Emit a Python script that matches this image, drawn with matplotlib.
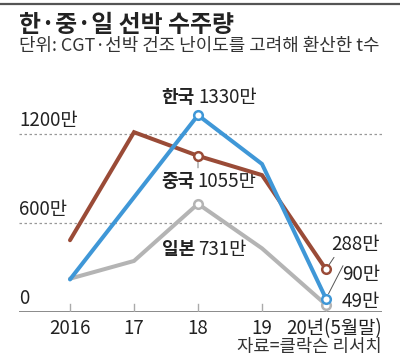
import matplotlib
matplotlib.use("Agg")
import matplotlib.pyplot as plt
from matplotlib import font_manager

# 한·중·일 선박 수주량 (만 CGT)
years = [2016, 2017, 2018, 2019, 2020]
xlabels = ["2016", "17", "18", "19", ""]
korea = [220, 775, 1330, 1000, 90]
china = [485, 1215, 1055, 925, 288]
japan = [225, 345, 731, 430, 49]
yticks = [0, 600, 1200]
ylabels = ["0", "600만", "1200만"]

BLUE = "#3f97d7"
BROWN = "#9a4b37"
GRAY = "#b4b4b4"
TXT = "#222222"

plt.rcParams["font.family"] = ["Noto Sans CJK KR", "DejaVu Sans"]
names = {f.name for f in font_manager.fontManager.ttflist}
NARROW = ["Liberation Sans Narrow", "Noto Sans CJK KR"] if "Liberation Sans Narrow" in names \
    else ["Noto Sans CJK KR"]

W, H = 400, 364
fig = plt.figure(figsize=(W / 100, H / 100), dpi=100)

def px(x, y):
    return x / W, 1 - y / H

def pt(v):
    return v * 0.72

# top rule
fig.add_artist(plt.Line2D([0, 1], [1 - 3.5 / H] * 2, color="#555555", lw=1.6))

fig.text(*px(19, 25), "한·중·일 선박 수주량", fontsize=17.2, fontweight="bold",
         color=TXT, va="center", ha="left")
fig.text(*px(19, 46), "단위: CGT·선박 건조 난이도를 고려해 환산한 t수", fontsize=12.9,
         color="#333333", va="center", ha="left", family=NARROW)
fig.text(*px(382, 347), "자료=클락슨 리서치", fontsize=12.8, color="#333333",
         va="center", ha="right", family=NARROW)

ax = fig.add_axes([19 / W, 1 - 312 / H, (382 - 19) / W, 222 / H])
ax.set_xlim(2016 - 51 / 64, 2020 + 56 / 64)
ax.set_ylim(0, 1500)
ax.axis("off")

NUM = dict(family=NARROW, fontsize=13.5, color=TXT)

# grid + y labels
for v, lab in zip(yticks, ylabels):
    if v > 0:
        ax.axhline(v, color="#999999", lw=0.9, ls=(0, (2, 2)), zorder=1)
    ax.annotate(lab, xy=(0, v), xycoords=("axes fraction", "data"),
                xytext=(0, pt(3)), textcoords="offset points",
                ha="left", va="bottom", **NUM)

# baseline + ticks
ax.axhline(0, color="#777777", lw=1.2, zorder=2)
for x, lab in zip(years, xlabels):
    ax.plot([x, x], [0, 8 / 222 * 1500], color="#aaaaaa", lw=1, zorder=2)
    if lab:
        ax.annotate(lab, xy=(x, 0), xytext=(0, -pt(17)), textcoords="offset points",
                    ha="center", va="center", **NUM)
ax.annotate("20년(5월말)", xy=(1, 0), xycoords="axes fraction", xytext=(0, -pt(17)),
            textcoords="offset points", ha="right", va="center", **NUM)

# lines
for vals, col, z in [(japan, GRAY, 3), (china, BROWN, 4), (korea, BLUE, 5)]:
    ax.plot(years, vals, color=col, lw=2.9, solid_capstyle="round",
            solid_joinstyle="miter", zorder=z)
    for i in (2, 4):
        ax.plot(years[i], vals[i], "o", ms=6.2, mfc="white", mec=col, mew=1.8, zorder=z + 3)

# series labels at 2018
def label(name, value, vals, dx, dy):
    ax.annotate(name, xy=(2018, vals[2]), xytext=(pt(dx), pt(dy)), textcoords="offset points",
                ha="right", va="center", fontsize=13, fontweight="bold", color=TXT)
    ax.annotate(value, xy=(2018, vals[2]), xytext=(pt(dx + 3), pt(dy)), textcoords="offset points",
                ha="left", va="center", **NUM)

label("한국", "%d만" % korea[2], korea, -3, 18)
label("중국", "%d만" % china[2], china, -4, -26)
label("일본", "%d만" % japan[2], japan, -3, -46)

# china leader
ax.annotate("", xy=(2018, china[2]), xytext=(0, -pt(12)), textcoords="offset points",
            arrowprops=dict(arrowstyle="-", color="#777777", lw=0.7, shrinkA=0, shrinkB=4))

# end labels
for vals, dy, lead in [(china, 25, (8, 12)), (korea, 24, (17, 33)), (japan, 3, None)]:
    ax.annotate("%d만" % vals[4], xy=(2020, vals[4]), xytext=(pt(54), pt(dy)),
                textcoords="offset points", ha="right", va="center", **NUM)
    if lead:
        ax.annotate("", xy=(2020, vals[4]), xytext=(pt(lead[0]), pt(lead[1])),
                    textcoords="offset points",
                    arrowprops=dict(arrowstyle="-", color="#555555", lw=0.7, shrinkA=0, shrinkB=4))

fig.savefig("out.png", dpi=100)
